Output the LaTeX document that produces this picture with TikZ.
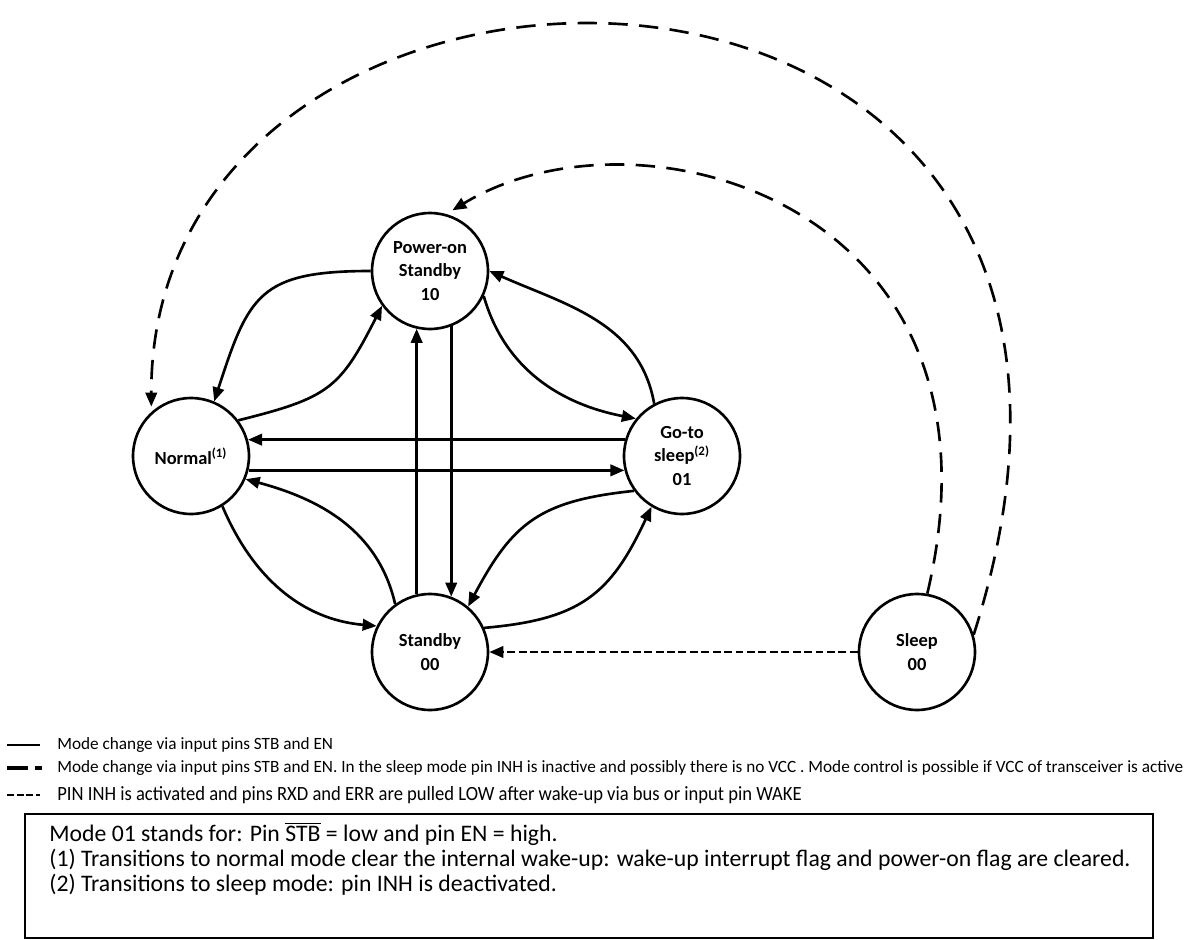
\documentclass[tikz,border=0pt]{standalone}
\usepackage{fontspec}
\setmainfont{Carlito}
\newfontfamily\narrowfont[FakeStretch=0.92]{Carlito}
\usetikzlibrary{arrows.meta}

\begin{document}
\begin{tikzpicture}[x=0.02cm, y=0.02cm,
    state/.style={circle, draw, line width=1.5pt, minimum size=2.32cm, inner sep=0pt,
      align=center, font=\bfseries\fontsize{10.5}{13.6}\selectfont},
    arr/.style={line width=1.5pt, -{Triangle[length=8pt,width=6.5pt]}},
    longdash/.style={arr, dash pattern=on 11pt off 6.5pt},
    shortdash/.style={arr, dash pattern=on 4.5pt off 2pt},
    legend/.style={anchor=west, inner sep=0pt, font=\fontsize{9.8}{11}\selectfont}]
  \useasboundingbox (0,0) rectangle (1188,-940);

  % States
  \node[state] (pon) at (430,-271) {Power-on\\Standby\\10};
  \node[state] (nrm) at (191,-456) {Normal\textsuperscript{(1)}};
  \node[state] (gts) at (682,-456) {Go-to\\sleep\textsuperscript{(2)}\\01};
  \node[state] (sby) at (430,-652) {Standby\\00};
  \node[state] (slp) at (917,-652) {Sleep\\00};

  % Straight transitions
  \draw[arr] (gts.164) -- (nrm.16);
  \draw[arr] (nrm.-14) -- (gts.194);
  \draw[arr] (sby.103) -- (pon.257);
  \draw[arr] (pon.291) -- (sby.69);

  % Curved transitions
  \draw[arr] (pon.180) to[out=180, in=72, looseness=1.4] (nrm.67);
  \draw[arr] (nrm.37) to[out=14, in=243, looseness=1.3] (pon.216);
  \draw[arr] (gts.118) to[out=100, in=-24] (pon.0);
  \draw[arr] (pon.-25) to[out=-74, in=169] (gts.141);
  \draw[arr] (nrm.-58) to[out=-67, in=175] (sby.154);
  \draw[arr] (sby.126) to[out=103, in=-15] (nrm.-23);
  \draw[arr] (gts.216) to[out=186, in=62, looseness=1.2] (sby.50);
  \draw[arr] (sby.24) to[out=5, in=245, looseness=1.2] (gts.239);

  % From sleep
  \draw[longdash, shorten >=3pt] (slp.17) .. controls (1219,135) and (150,135) .. (nrm.132);
  \draw[longdash, shorten >=4pt] (slp.80) .. controls (1020,-203) and (639,-97) .. (pon.74);
  \draw[shortdash] (slp.180) -- (sby.0);

  % Legend
  \draw[line width=1.2pt] (7,-745) -- (40,-745);
  \node[legend] (lg1) at (57,-745) {Mode change via input pins STB and EN};
  \draw[line width=1.8pt] (7,-768) -- (28,-768) (35,-768) -- (42,-768);
  \node[legend] (lg2) at (57,-768) {Mode change via input pins STB and EN. In the sleep mode pin INH is inactive and possibly there is no VCC . Mode control is possible if VCC of transceiver is active};
  \draw[line width=1.5pt, dash pattern=on 4pt off 1.5pt] (7,-795) -- (40,-795);
  \node[legend, font=\narrowfont\fontsize{11.5}{13}\selectfont] (lg3) at (57,-795) {PIN INH is activated and pins RXD and ERR are pulled LOW after wake-up via bus or input pin WAKE};

  % Notes
  \node[draw, line width=1.1pt, anchor=north west, minimum width=22.56cm, minimum height=2.48cm] (note) at (24,-813) {};
  \node[anchor=north west, align=left, inner sep=0pt, font=\fontsize{13.5}{14.2}\selectfont] (notetext)
    at ([shift={(25,-9)}]note.north west)
    {Mode 01 stands for: Pin $\overline{\mathrm{STB}}$ = low and pin EN = high.\\
     (1) Transitions to normal mode clear the internal wake-up: wake-up interrupt flag and power-on flag are cleared.\\
     (2) Transitions to sleep mode: pin INH is deactivated.};
\end{tikzpicture}
\end{document}
